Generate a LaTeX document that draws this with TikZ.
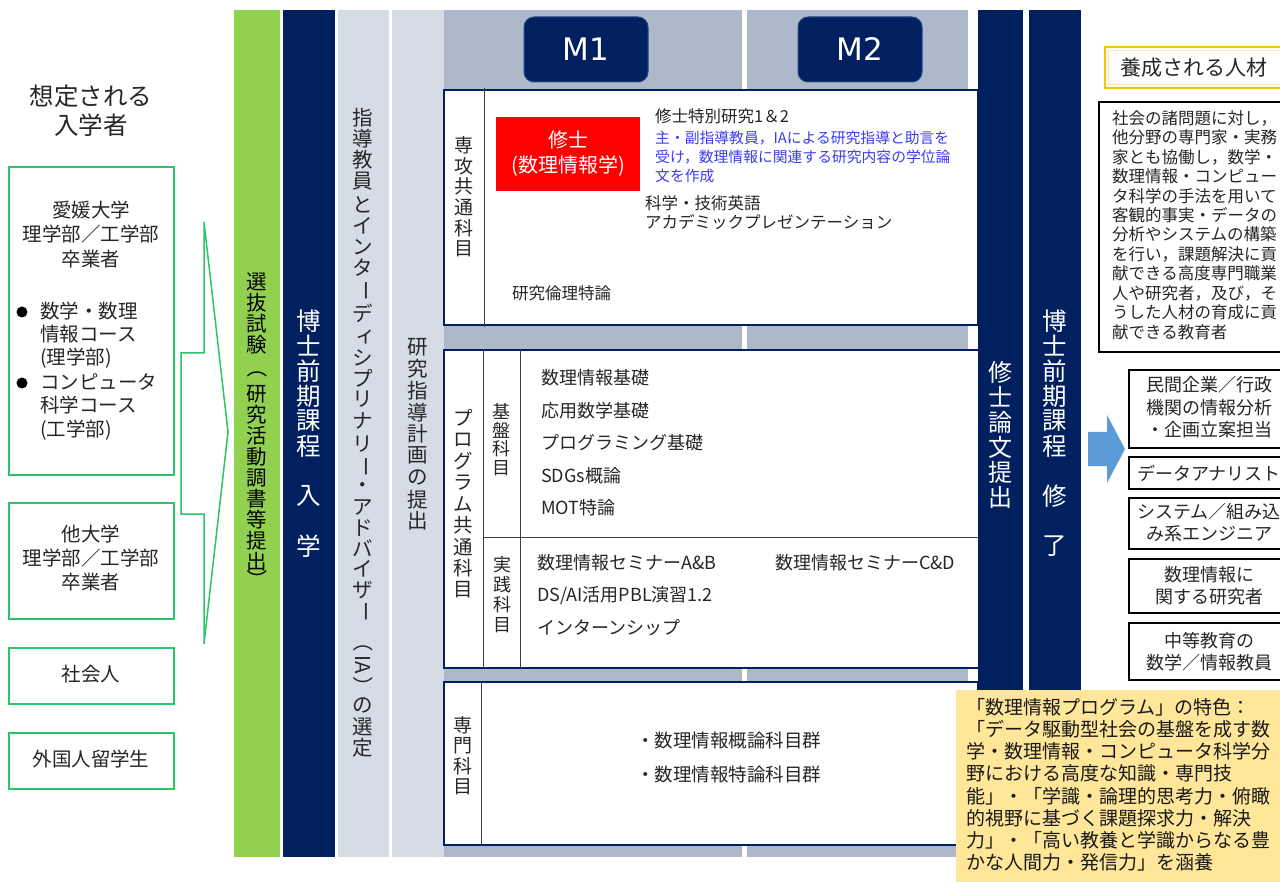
\documentclass[tikz,border=0pt]{standalone}
\usepackage{fontspec}
\usepackage{graphicx}
\setmainfont{Noto Sans CJK JP}
\newfontfamily\mfont{DejaVu Sans}
\definecolor{navy}{HTML}{002060}
\definecolor{lgreen}{HTML}{92D050}
\definecolor{lgray}{HTML}{D6DCE5}
\definecolor{gblue}{HTML}{ADB9CA}
\definecolor{bgreen}{RGB}{46,196,106}
\definecolor{txt}{HTML}{262626}
\definecolor{bluetxt}{HTML}{3C3CF0}
\definecolor{yel}{HTML}{FFE699}
\definecolor{gold}{HTML}{FFC000}
\definecolor{arrowblue}{HTML}{5B9BD5}
\definecolor{mborder}{RGB}{40,70,130}
\newcommand\fs[2]{\fontsize{#1}{#2}\selectfont}
\newcommand\tatechoon{\rotatebox[origin=c]{-90}{ー}}
\newcommand\tatelp{\rotatebox[origin=c]{-90}{（}}
\newcommand\taterp{\rotatebox[origin=c]{-90}{）}}
\newcommand\tateIA{\rotatebox[origin=c]{-90}{IA}}
% name, x, y0, pitch, style, list
\newcommand\vstack[6]{\foreach \tch [count=\ti from 0] in {#6} {\node[#5] (#1-\ti) at (#2,{#3+\ti*#4}) {\tch};}}
% name, x, style, list of y/char
\newcommand\vplace[4]{\foreach \ty/\tch [count=\ti] in {#4} {\node[#3] (#1-\ti) at (#2,\ty) {\tch};}}
\tikzset{
  txtnode/.style={inner sep=0, text=txt},
  vch/.style={inner sep=0, text=txt},
  gbox/.style={draw=bgreen, line width=1.8, fill=white},
  navybox/.style={draw=navy, line width=2, fill=white},
  divline/.style={draw=black!75, line width=0.9},
  cbox/.style={draw=black, line width=1.2, fill=white},
  mbox/.style={fill=navy, draw=mborder, line width=1, rounded corners=10, minimum width=124, minimum height=65, text=white, font=\mfont\fs{31}{36}, inner sep=0},
}
\begin{document}
\begin{tikzpicture}[x=1pt,y=-1pt]
\clip (0,0) rectangle (1280,882);
\fill[white] (0,0) rectangle (1280,882);

% ---------- left column ----------
\node[txtnode, align=center, font=\fs{24.5}{29}] (title) at (91,110.5) {想定される\\入学者};
\draw[gbox] (9,167) rectangle (174,475);
\draw[gbox] (9,503) rectangle (174,619);
\draw[gbox] (9,648) rectangle (174,704);
\draw[gbox] (9,733) rectangle (174,789);
\node[txtnode, align=center, font=\fs{19.5}{24.5}] (ehime) at (91,234.5) {愛媛大学\\理学部／工学部\\卒業者};
\fill[black] (22,312) circle (5.5);
\fill[black] (22,383) circle (5.5);
\node[txtnode, anchor=west, align=left, font=\fs{19.5}{23}] (course1) at (40,335) {数学・数理\\情報コース\\(理学部)};
\node[txtnode, anchor=west, align=left, font=\fs{19.5}{23.5}] (course2) at (40,406.5) {コンピュータ\\科学コース\\(工学部)};
\node[txtnode, align=center, font=\fs{19.5}{24}] (other) at (91,558) {他大学\\理学部／工学部\\卒業者};
\node[txtnode, font=\fs{19.5}{24}] (adult) at (91,674) {社会人};
\node[txtnode, font=\fs{19.5}{24}] (intl) at (91,759) {外国人留学生};
\draw[bgreen, line width=1.5] (204,222) -- (228,432) -- (204,644) -- (204,514) -- (181,514) -- (181,353) -- (204,353) -- cycle;

% ---------- vertical bars ----------
\fill[lgreen] (234,10) rectangle (280,857);
\fill[navy] (283,10) rectangle (335,857);
\fill[lgray] (338,10) rectangle (389,857);
\fill[lgray] (392,10) rectangle (444,857);
\fill[gblue] (444,10) rectangle (742,857);
\fill[gblue] (747,10) rectangle (968,857);

\vplace{sel}{257}{vch, text=black, font=\fs{20.5}{24}}{282/選,303/抜,324/試,345/験,368/\tatelp,394/研,415/究,436/活,457/動,478/調,499/書,520/等,541/提,562/出,580/\taterp}
\vplace{ent}{309}{vch, text=white, font=\fs{24.5}{28}}{321/博,346/士,371/前,396/期,421/課,446/程,496/入,546/学}
\vplace{adv}{363}{vch, font=\fs{20.5}{24}}{118/指,139/導,160/教,181/員,205/と,226/イ,247/ン,268/タ,291/\tatechoon,313/デ,337/\hspace{5pt}ィ,358/シ,378/プ,399/リ,421/ナ,444/リ,467/\tatechoon,488/・,507/ア,528/ド,548/バ,569/イ,590/ザ,612/\tatechoon,642/\tatelp,665/\tateIA,687/\taterp,705/の,727/選,748/定}
\vstack{plan}{418}{347}{21.75}{vch, font=\fs{20.5}{24}}{研,究,指,導,計,画,の,提,出}

% ---------- M1 / M2 ----------
\node[mbox] (m1) at (586,49.5) {M1};
\node[mbox] (m2) at (860,49.5) {M2};

% ---------- 専攻共通科目 ----------
\draw[navybox] (444,90) rectangle (978,325);
\draw[divline] (484,88) -- (484,327);
\vstack{senko}{464}{145}{20.8}{vch, font=\fs{19}{22}}{専,攻,共,通,科,目}
\node[fill=red, text=white, minimum width=144, minimum height=74, inner sep=0, align=center, font=\fs{20}{25}] (master) at (568,154) {修士\\(数理情報学)};
\node[txtnode, anchor=west, font=\fs{16.5}{20}] (tokubetsu) at (655,116) {修士特別研究1＆2};
\node[txtnode, anchor=west, align=left, text=bluetxt, font=\fs{14.8}{18.7}] (shido) at (655,157) {主・副指導教員，IAによる研究指導と助言を\\受け，数理情報に関連する研究内容の学位論\\文を作成};
\node[txtnode, anchor=west, align=left, font=\fs{16.5}{19}] (eigo) at (645,212.5) {科学・技術英語\\アカデミックプレゼンテーション};
\node[txtnode, anchor=west, font=\fs{16.5}{20}] (rinri) at (512,293) {研究倫理特論};

% ---------- プログラム共通科目 ----------
\draw[navybox] (444,350) rectangle (980,668);
\draw[divline] (483,350) -- (483,668);
\draw[divline] (520,350) -- (520,668);
\draw[divline] (483,537) -- (980,537);
\vstack{prog}{463}{418}{21.5}{vch, font=\fs{19.5}{22}}{プ,ロ,グ,ラ,ム,共,通,科,目}
\vstack{kiban}{501}{411}{19}{vch, font=\fs{18}{21}}{基,盤,科,目}
\vstack{jissen}{502}{565}{20}{vch, font=\fs{18}{21}}{実,践,科,目}
\node[txtnode, anchor=west, font=\fs{18}{21}] (k1) at (541,378) {数理情報基礎};
\node[txtnode, anchor=west, font=\fs{18}{21}] (k2) at (541,411) {応用数学基礎};
\node[txtnode, anchor=west, font=\fs{18}{21}] (k3) at (541,443) {プログラミング基礎};
\node[txtnode, anchor=west, font=\fs{18}{21}] (k4) at (541,476) {SDGs概論};
\node[txtnode, anchor=west, font=\fs{18}{21}] (k5) at (541,508) {MOT特論};
\node[txtnode, anchor=west, font=\fs{18}{21}] (j1) at (537,563) {数理情報セミナーA\&B};
\node[txtnode, anchor=west, font=\fs{18}{21}] (j1b) at (775,563) {数理情報セミナーC\&D};
\node[txtnode, anchor=west, font=\fs{18}{21}] (j2) at (537,596) {DS/AI活用PBL演習1.2};
\node[txtnode, anchor=west, font=\fs{18}{21}] (j3) at (537,628) {インターンシップ};

% ---------- 専門科目 ----------
\draw[navybox] (444,682) rectangle (978,845);
\draw[divline] (481,682) -- (481,845);
\vstack{senmon}{463}{725}{20.5}{vch, font=\fs{19}{22}}{専,門,科,目}
\node[txtnode, anchor=west, font=\fs{18.5}{22}] (s1) at (636,740) {・数理情報概論科目群};
\node[txtnode, anchor=west, font=\fs{18.5}{22}] (s2) at (636,774) {・数理情報特論科目群};

% ---------- right navy bars ----------
\fill[navy] (978,10) rectangle (1023,857);
\fill[navy] (1029,10) rectangle (1081,857);
\vstack{thesis}{1000}{372}{25}{vch, text=white, font=\fs{24}{28}}{修,士,論,文,提,出}
\vplace{grad}{1055}{vch, text=white, font=\fs{24.5}{28}}{321/博,346/士,371/前,396/期,421/課,446/程,496/修,546/了}

% ---------- right column ----------
\draw[gold, line width=2.5, fill=white] (1105,47) rectangle (1295,88);
\draw[gold!35, line width=1] (1108.5,50.5) rectangle (1295,84.5);
\node[txtnode, anchor=west, font=\fs{21}{24}] (jinzai) at (1120,68) {養成される人材};
\draw[cbox] (1099,102) rectangle (1295,352);
\node[txtnode, anchor=west, align=left, font=\fs{16.5}{19.45}] (desc) at (1112,225) {社会の諸問題に対し，\\他分野の専門家・実務\\家とも協働し，数学・\\数理情報・コンピュー\\タ科学の手法を用いて\\客観的事実・データの\\分析やシステムの構築\\を行い，課題解決に貢\\献できる高度専門職業\\人や研究者，及び，そ\\うした人材の育成に貢\\献できる教育者};

\fill[arrowblue] (1088,432) -- (1107,432) -- (1107,415) -- (1125,449) -- (1107,483) -- (1107,466) -- (1088,466) -- cycle;

\draw[cbox] (1129,370) rectangle (1290,448);
\draw[cbox] (1129,457) rectangle (1290,489);
\draw[cbox] (1129,498) rectangle (1290,549);
\draw[cbox] (1129,559) rectangle (1290,613);
\draw[cbox] (1129,623) rectangle (1290,680);
\node[txtnode, align=center, font=\fs{18}{22.5}] (job1) at (1209,407.5) {民間企業／行政\\機関の情報分析\\・企画立案担当};
\node[txtnode, font=\fs{18}{22}] (job2) at (1209,473) {データアナリスト};
\node[txtnode, align=center, font=\fs{18}{22}] (job3) at (1209,523) {システム／組み込\\み系エンジニア};
\node[txtnode, align=center, font=\fs{18}{22}] (job4) at (1209,586) {数理情報に\\関する研究者};
\node[txtnode, align=center, font=\fs{18}{21.5}] (job5) at (1209,651.5) {中等教育の\\数学／情報教員};

% ---------- yellow feature box ----------
\fill[yel] (956,690) rectangle (1295,890);
\node[inner sep=0, text=black!90, anchor=west, align=left, font=\fs{19}{22.2}] (feature) at (966,784.7) {「数理情報プログラム」の特色：\\「データ駆動型社会の基盤を成す数\\学・数理情報・コンピュータ科学分\\野における高度な知識・専門技\\能」・「学識・論理的思考力・俯瞰\\的視野に基づく課題探求力・解決\\力」・「高い教養と学識からなる豊\\かな人間力・発信力」を涵養};
\end{tikzpicture}
\end{document}
